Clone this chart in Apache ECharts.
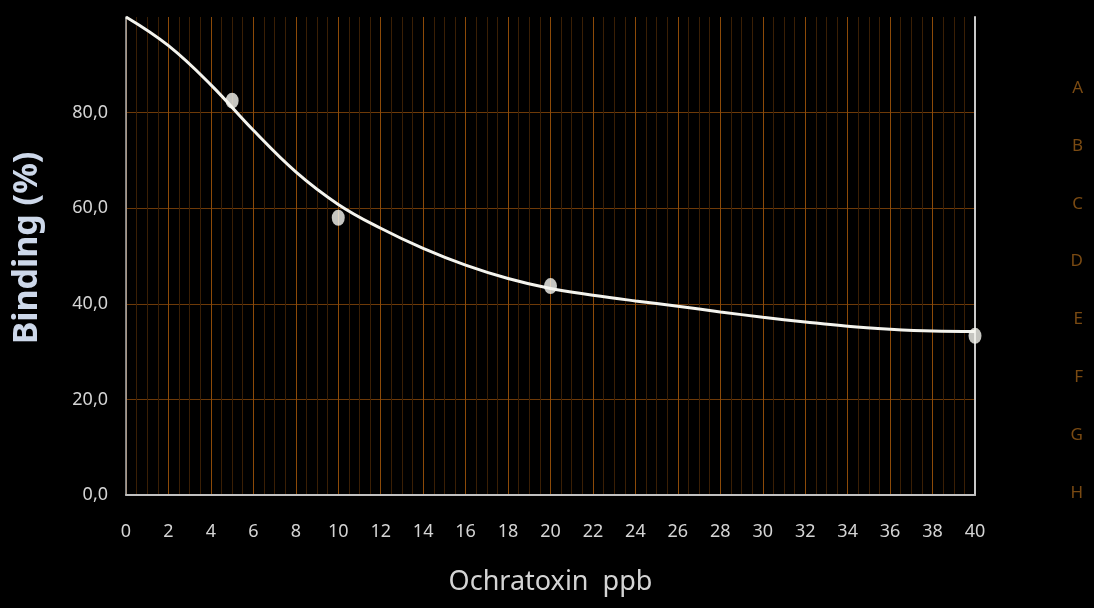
<!DOCTYPE html>
<html>
<head>
<meta charset="utf-8">
<script src="https://cdn.jsdelivr.net/npm/echarts@6/dist/echarts.min.js"></script>
<style>html,body{margin:0;padding:0;background:#000;}#c{width:1094px;height:608px;}</style>
</head>
<body>
<div id="c"></div>
<script>
// Measured sample points
const sampleX = [5, 10, 20, 40];
const sampleY = [82.5, 58.0, 43.7, 33.3];
// Fitted curve
const curveX = [0, 2, 4, 6, 8, 10, 12, 14, 16, 18, 20, 22, 24, 26, 28, 30, 32, 34, 36, 38, 40];
const curveY = [100, 94, 85.8, 76.3, 67.6, 60.8, 55.8, 51.6, 48.1, 45.3, 43.2, 41.8, 40.6, 39.5, 38.3, 37.2, 36.2, 35.3, 34.7, 34.3, 34.2];
const sideLabels = ['A', 'B', 'C', 'D', 'E', 'F', 'G', 'H'];
const xTitle = 'Ochratoxin  ppb';
const yTitle = 'Binding (%)';

const chart = echarts.init(document.getElementById('c'));
const font = 'Noto Sans';
chart.setOption({
  backgroundColor: '#000',
  animation: false,
  grid: [
    {left: 126, right: 119, top: 17, bottom: 113},
    {left: 1087, width: 1, top: 88, bottom: 115}
  ],
  xAxis: [
    {
      type: 'value', gridIndex: 0, min: 0, max: 40, interval: 2,
      name: xTitle, nameLocation: 'middle', nameGap: 74,
      nameTextStyle: {color: '#d4d4d4', fontSize: 27, fontFamily: font},
      axisLine: {show: true, lineStyle: {color: '#c0c0c0', width: 2}},
      axisTick: {show: false},
      axisLabel: {color: '#d4d4d4', fontSize: 18, fontFamily: font, margin: 28},
      splitLine: {show: true, lineStyle: {color: '#8c4a08', width: 1}},
      minorTick: {show: false, splitNumber: 4},
      minorSplitLine: {show: true, lineStyle: {color: '#3a1f05', width: 1}}
    },
    {type: 'value', gridIndex: 1, show: false}
  ],
  yAxis: [
    {
      type: 'value', gridIndex: 0, min: 0, max: 100, interval: 20,
      name: yTitle, nameLocation: 'middle', nameGap: 82,
      nameTextStyle: {color: '#cdd8ea', fontSize: 34, fontWeight: 'bold', fontFamily: font, padding: [0, 0, 0, 16]},
      axisLine: {show: true, lineStyle: {color: '#b0b0b0', width: 1.5}},
      axisTick: {show: false},
      axisLabel: {color: '#d4d4d4', fontSize: 18, fontFamily: font, margin: 18, showMaxLabel: false,
        formatter: v => v.toFixed(1).replace('.', ',')},
      splitLine: {show: true, showMinLine: false, showMaxLine: false, lineStyle: {color: '#6e3a08', width: 1}}
    },
    {
      type: 'value', gridIndex: 0, position: 'right', min: 0, max: 100,
      axisLine: {show: true, lineStyle: {color: '#c8c8c8', width: 2}},
      axisTick: {show: false}, axisLabel: {show: false}, splitLine: {show: false}
    },
    {
      type: 'category', gridIndex: 1, data: sideLabels, inverse: true, boundaryGap: false,
      axisLine: {show: false}, axisTick: {show: false}, splitLine: {show: false},
      axisLabel: {color: '#7a4a12', fontSize: 17, fontFamily: font, margin: 4}
    }
  ],
  series: [
    {
      type: 'line', xAxisIndex: 0, yAxisIndex: 0, smooth: 0.4, symbol: 'none',
      data: curveX.map((x, i) => [x, curveY[i]]),
      lineStyle: {color: '#f4f4ee', width: 3}, z: 3
    },
    {
      type: 'scatter', xAxisIndex: 0, yAxisIndex: 0, symbol: 'circle', symbolSize: [13, 16],
      data: sampleX.map((x, i) => [x, sampleY[i]]),
      itemStyle: {color: '#f6f6f0'}, z: 4
    }
  ]
});
</script>
</body>
</html>
